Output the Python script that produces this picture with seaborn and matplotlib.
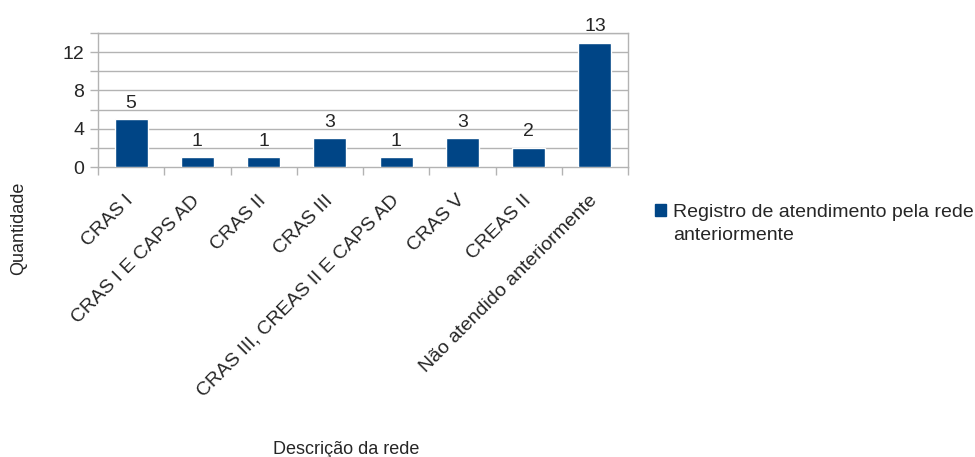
import matplotlib
matplotlib.use("Agg")
import matplotlib.pyplot as plt
import matplotlib.transforms as mtransforms
import seaborn as sns
import pandas as pd
from matplotlib.ticker import MultipleLocator, FixedLocator
from matplotlib.patches import Patch

categories = ["CRAS I", "CRAS I E CAPS AD", "CRAS II", "CRAS III",
              "CRAS III, CREAS II E CAPS AD", "CRAS V", "CREAS II",
              "Não atendido anteriormente"]
values = [5, 1, 1, 3, 1, 3, 2, 13]
series_line1 = "Registro de atendimento pela rede"
series_line2 = "anteriormente"
x_title = "Descrição da rede"
y_title = "Quantidade"

sns.set_theme(style="white")
plt.rcParams["font.family"] = ["Liberation Sans", "DejaVu Sans"]

df = pd.DataFrame({"cat": categories, "val": values})

fig = plt.figure(figsize=(9.75, 4.57), dpi=100)
ax = fig.add_axes([98/975, 1-167/457, (628-98)/975, (167-33)/457])

bar_color = "#004586"
text_c = "#262626"
grid_c = "#b3b3b3"

sns.barplot(data=df, x="cat", y="val", color=bar_color, width=0.5,
            saturation=1, ax=ax, zorder=3)

ax.set_ylim(0, 14)
ax.set_xlim(-0.5, len(categories) - 0.5)

ax.yaxis.set_major_locator(MultipleLocator(4))
ax.yaxis.set_minor_locator(MultipleLocator(2))
ax.grid(False)
for yv in range(2, 15, 2):
    ax.axhline(yv, color=grid_c, lw=1, zorder=0)

ax.tick_params(axis="y", which="both", length=6, color=grid_c, width=1,
               labelsize=14, pad=4, left=True, labelcolor=text_c)
ax.tick_params(axis="y", which="minor", labelleft=False)

ax.xaxis.set_minor_locator(FixedLocator([i - 0.5 for i in range(len(categories) + 1)]))
ax.tick_params(axis="x", which="minor", length=6, color=grid_c, width=1, bottom=True)
ax.tick_params(axis="x", which="major", length=0, labelsize=14, pad=18,
               labelcolor=text_c)
ax.set_xticks(range(len(categories)))
ax.set_xticklabels(categories, rotation=45, ha="right", rotation_mode="anchor")
shift = mtransforms.ScaledTranslation(-6/100, 0, fig.dpi_scale_trans)
for lbl in ax.get_xticklabels():
    lbl.set_transform(lbl.get_transform() + shift)

for s in ax.spines.values():
    s.set_color(grid_c)
    s.set_linewidth(1)
    s.set_visible(True)

ax.set_xlabel("")
ax.set_ylabel("")

for c in ax.containers:
    ax.bar_label(c, fmt="%d", padding=5.5, fontsize=14, color=text_c)

fig.text(19/975, 1-228/457, y_title, rotation=90, ha="center", va="center",
         fontsize=13, color=text_c)
fig.text(346/975, 1-449/457, x_title, ha="center", va="center",
         fontsize=13, color=text_c)

handle = Patch(facecolor=bar_color, edgecolor=bar_color)
leg = fig.legend([handle], [series_line1], loc="upper left",
                 bbox_to_anchor=(655/975, 1-204/457), frameon=False,
                 fontsize=14, handlelength=0.55, handleheight=0.55,
                 handletextpad=0.4, borderpad=0, borderaxespad=0,
                 labelcolor=text_c)

fig.canvas.draw()
t = leg.get_texts()[0]
bb = t.get_window_extent()
fig.text(bb.x0 / fig.bbox.width, (bb.y0 - 23) / fig.bbox.height, series_line2,
         ha="left", va="bottom", fontsize=14, color=text_c)

fig.savefig("out.png", dpi=100)
